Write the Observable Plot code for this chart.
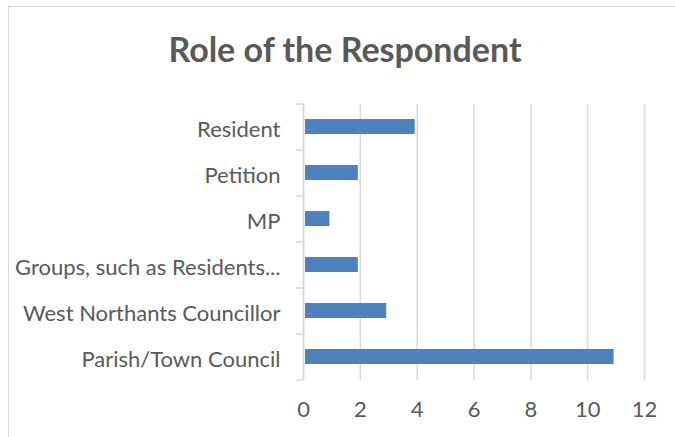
<!DOCTYPE html>
<html><head><meta charset="utf-8">
<script src="https://cdn.jsdelivr.net/npm/d3@7"></script>
<script src="https://cdn.jsdelivr.net/npm/@observablehq/plot@0.6"></script>
<style>
body{margin:0;background:#fff;overflow:hidden;}
#wrap{position:relative;width:675px;height:437px;overflow:hidden;font-family:Lato,sans-serif;}
#border{position:absolute;left:8px;top:6px;width:700px;height:460px;border:1px solid #d9d9d9;box-sizing:border-box;}
#title{position:relative;left:8px;width:674px;height:90px;box-sizing:border-box;padding-top:32px;text-align:center;font-weight:bold;font-size:34px;line-height:34px;color:#595959;white-space:nowrap;}
#plot{position:relative;}
</style></head><body>
<div id="wrap"><div id="border"></div><div id="title">Role of the Respondent</div><div id="plot"></div></div>
<script>
const categories = ["Resident", "Petition", "MP", "Groups, such as Residents...", "West Northants Councillor", "Parish/Town Council"];
const counts = [4, 2, 1, 2, 3, 11];
const xTicks = [0, 2, 4, 6, 8, 10, 12];
const data = categories.map((c, i) => ({role: c, count: counts[i]}));
const grey = "#d9d9d9";
const textColor = "#595959";
const chart = Plot.plot({
  width: 675, height: 347,
  marginLeft: 303, marginRight: 31, marginTop: 14, marginBottom: 57,
  style: {fontFamily: "Lato, sans-serif", fontSize: "22px", color: textColor, background: "transparent", overflow: "visible"},
  x: {domain: [0, 12], ticks: xTicks},
  y: {domain: categories, paddingInner: 0.67, paddingOuter: 0.335},
  marks: [
    Plot.gridX(xTicks, {stroke: grey, strokeOpacity: 1, strokeWidth: 1.5}),
    Plot.barX(data, {x: "count", y: "role", fill: "#4f81bd", insetLeft: 2, insetRight: 2}),
    Plot.ruleX([0], {stroke: grey, strokeWidth: 1.5}),
    Plot.ruleY(categories, {y: d => d, x1: -0.25, x2: 0, dy: -23, stroke: grey, strokeWidth: 1.5}),
    Plot.ruleY(categories.slice(-1), {y: d => d, x1: -0.25, x2: 0, dy: 23, stroke: grey, strokeWidth: 1.5}),
    Plot.axisX({ticks: xTicks, tickSize: 0, tickPadding: 21, fill: textColor, label: null}),
    Plot.axisY({tickSize: 0, tickPadding: 23, label: null, fill: textColor, dy: 3})
  ]
});
document.getElementById("plot").appendChild(chart);
</script>
</body></html>
